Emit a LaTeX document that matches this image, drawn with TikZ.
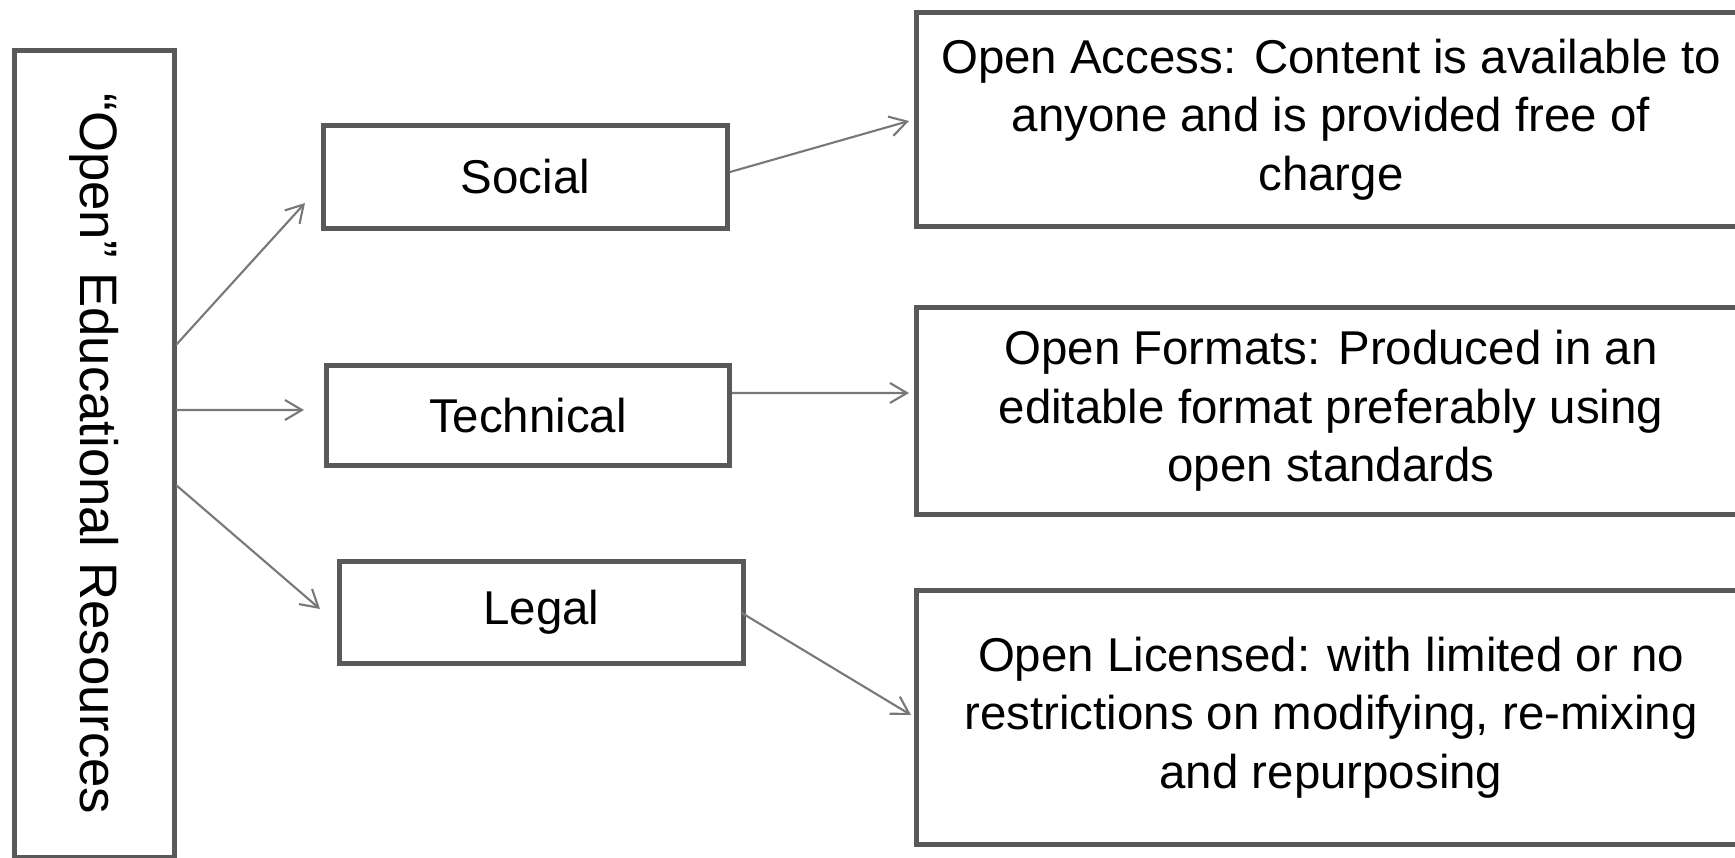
\documentclass[tikz,border=0pt]{standalone}
\usepackage{fontspec}
\setmainfont{Liberation Sans}
\usepackage{tikz}
\usetikzlibrary{arrows.meta}
\definecolor{boxgray}{RGB}{89,89,89}
\definecolor{linkgray}{RGB}{120,120,120}
\tikzset{
    frame/.style={draw=boxgray, line width=0.05cm, inner sep=0pt, align=center,
        font=\fontsize{13.5}{16.6}\selectfont},
    link/.style={draw=linkgray, line width=0.6pt,
        -{Straight Barb[length=0.17cm, width=0.2cm, line width=0.6pt]}},
}
\begin{document}
\begin{tikzpicture}
\useasboundingbox (0,0) rectangle (17.35,-8.58);

% left column (rotated, so width runs down the page)
\node[frame, minimum width=8.06cm, minimum height=1.6cm, rotate=-90,
      font=\fontsize{15}{18}\selectfont] (oer) at (0.945,-4.54)
      {``Open'' Educational Resources};

% middle column
\node[frame, minimum width=4.04cm, minimum height=1.03cm] (social) at (5.255,-1.77) {Social};
\node[frame, minimum width=4.03cm, minimum height=1.00cm] (tech) at (5.28,-4.155) {Technical};
\node[frame, minimum width=4.04cm, minimum height=1.02cm] (legal) at (5.415,-6.125) {Legal};

% right column
\node[frame, minimum width=8.29cm, minimum height=2.14cm] (access) at (13.31,-1.195)
      {Open Access: Content is available to\\ anyone and is provided free of\\ charge};
\node[frame, minimum width=8.29cm, minimum height=2.07cm] (formats) at (13.31,-4.11)
      {Open Formats: Produced in an\\ editable format preferably using\\ open standards};
\node[frame, minimum width=8.29cm, minimum height=2.54cm] (licensed) at (13.31,-7.175)
      {Open Licensed: with limited or no\\ restrictions on modifying, re-mixing\\ and repurposing};

\draw[link] ([xshift=-0.01cm, yshift=1.09cm]oer.north) -- ([xshift=-0.16cm, yshift=-0.26cm]social.west);
\draw[link] ([xshift=-0.01cm, yshift=0.44cm]oer.north) -- ([xshift=-0.2cm, yshift=0.055cm]tech.west);
\draw[link] ([xshift=-0.01cm, yshift=-0.31cm]oer.north) -- ([xshift=-0.17cm, yshift=0.035cm]legal.west);

\draw[link] ([yshift=0.05cm]social.east) -- ([xshift=-0.05cm, yshift=-0.015cm]access.west);
\draw[link] ([yshift=0.225cm]tech.east) -- ([xshift=-0.05cm, yshift=0.18cm]formats.west);
\draw[link] ([xshift=-0.05cm]legal.east) -- ([xshift=-0.03cm, yshift=0.025cm]licensed.west);
\end{tikzpicture}
\end{document}
